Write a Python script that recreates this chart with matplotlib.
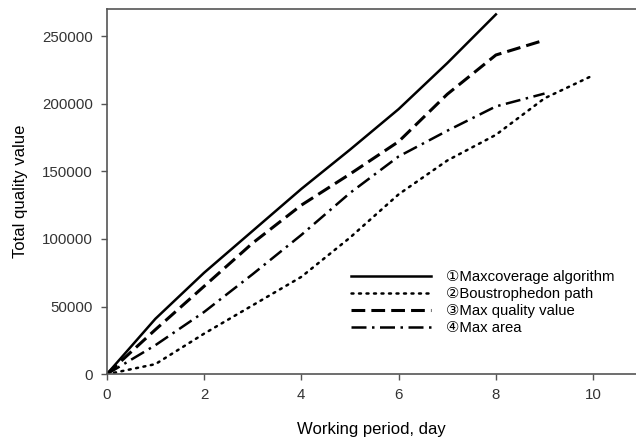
import numpy as np
import matplotlib
matplotlib.use("Agg")
import matplotlib.pyplot as plt

plt.rcParams['font.family'] = ['Liberation Sans', 'DejaVu Sans']

days_a = [0, 1, 2, 3, 4, 5, 6, 7, 8]
maxcoverage = [0, 41000, 75000, 106000, 137000, 166000, 196000, 230000, 266000]

days_b = [0, 1, 2, 3, 4, 5, 6, 7, 8, 9, 10]
boustrophedon = [0, 7500, 30000, 51000, 72000, 101000, 133000, 158000, 177000, 204000, 221000]

days_c = [0, 1, 2, 3, 4, 5, 6, 7, 8, 9]
max_quality = [0, 33000, 65000, 97000, 125000, 148000, 172000, 207000, 236000, 247000]

days_d = [0, 1, 2, 3, 4, 5, 6, 7, 8, 9]
max_area = [0, 21500, 46000, 74000, 103000, 134000, 161000, 180000, 198000, 207500]

labels = ["\u2460Maxcoverage algorithm", "\u2461Boustrophedon path",
          "\u2462Max quality value", "\u2463Max area"]

fig = plt.figure(figsize=(6.36, 4.37), dpi=100)
ax = fig.add_axes([0.1678, 0.1435, 0.8322, 0.8359])

ax.plot(days_a, maxcoverage, color='black', lw=1.8, label=labels[0])
ax.plot(days_b, boustrophedon, color='black', lw=1.8, dashes=(0.8, 2.2),
        dash_capstyle='round', label=labels[1])
ax.plot(days_c, max_quality, color='black', lw=2.2, dashes=(4.5, 2), label=labels[2])
ax.plot(days_d, max_area, color='black', lw=1.8, dashes=(6, 2.2, 1, 2.2), label=labels[3])

ax.set_xlim(0, 10.88)
ax.set_ylim(0, 270000)
ax.set_xticks([0, 2, 4, 6, 8, 10])
ax.set_yticks([0, 50000, 100000, 150000, 200000, 250000])

for s in ['left', 'bottom', 'top']:
    ax.spines[s].set_color('#555555')
    ax.spines[s].set_linewidth(1.2)
ax.spines['right'].set_visible(False)
ax.tick_params(direction='out', length=4, width=1, colors='#555555',
               labelcolor='#333333', labelsize=10.8, pad=6)

ax.set_xlabel("Working period, day", fontsize=12, labelpad=14)
ax.set_ylabel("Total quality value", fontsize=12, labelpad=10)

ax.legend(loc='upper left', bbox_to_anchor=(0.4616, 0.285), frameon=False,
          fontsize=10.7, handlelength=5.4, handletextpad=1.0, labelspacing=0.2,
          borderpad=0, borderaxespad=0)

fig.savefig("out.png", dpi=100)
